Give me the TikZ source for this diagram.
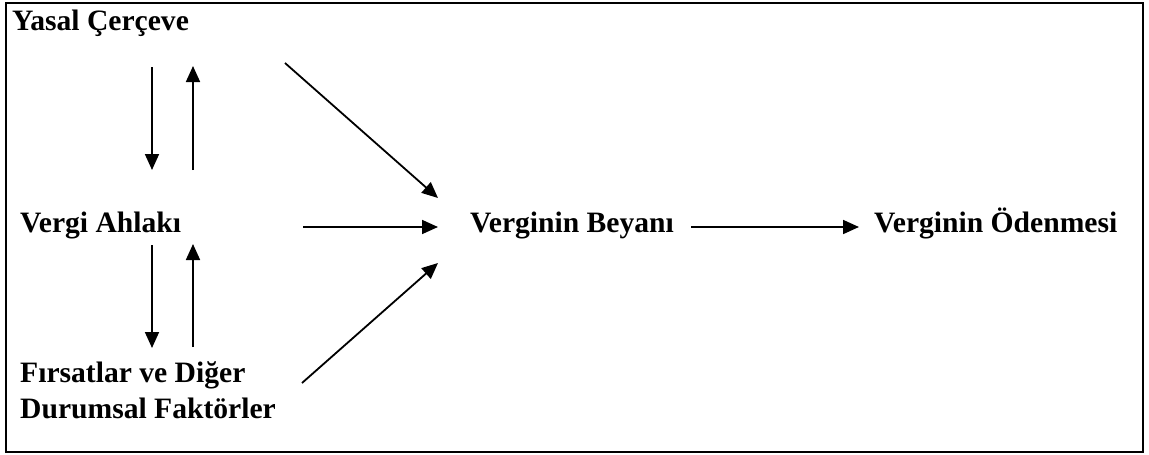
\documentclass[tikz,border=0pt]{standalone}
\usepackage{fontspec}
\setmainfont{Liberation Serif}
\usetikzlibrary{arrows.meta}
\tikzset{
  lbl/.style={inner sep=0pt, anchor=base west, font=\bfseries\fontsize{29.6}{36}\selectfont, align=left},
  arr/.style={line width=1.8pt, -{Triangle[length=16pt,width=14pt]}},
  frame/.style={line width=2pt}
}
\begin{document}
\begin{tikzpicture}[x=1pt,y=-1pt]
\useasboundingbox (0,0) rectangle (1149,455);
\draw[frame] (5.5,2.5) rectangle (1143,451.5);
\node[lbl] (yasal) at (12,30) {Yasal Çerçeve};
\node[lbl] (ahlak) at (20,232) {Vergi Ahlakı};
\node[lbl] (firsat) at (20,382) {Fırsatlar ve Diğer};
\node[lbl] (durum) at (20,418) {Durumsal Faktörler};
\node[lbl] (beyan) at (470,232) {Verginin Beyanı};
\node[lbl] (odeme) at (874,232) {Verginin Ödenmesi};
% coordinates for arrow ends
\coordinate (d1s) at (152,67);  \coordinate (d1e) at (152,170);
\coordinate (u1s) at (193,170); \coordinate (u1e) at (193,66);
\coordinate (d2s) at (152,245); \coordinate (d2e) at (152,348);
\coordinate (u2s) at (193,347); \coordinate (u2e) at (193,244);
\coordinate (y1) at (285,63);   \coordinate (b1) at (438,198);
\coordinate (a1) at (303,227);  \coordinate (b2) at (438,227);
\coordinate (f1) at (302,383);  \coordinate (b3) at (438,263);
\coordinate (o1) at (691,227);  \coordinate (o2) at (859,227);
\draw[arr] (d1s) -- (d1e);
\draw[arr] (u1s) -- (u1e);
\draw[arr] (d2s) -- (d2e);
\draw[arr] (u2s) -- (u2e);
\draw[arr] (y1) -- (b1);
\draw[arr] (a1) -- (b2);
\draw[arr] (f1) -- (b3);
\draw[arr] (o1) -- (o2);
\end{tikzpicture}
\end{document}
